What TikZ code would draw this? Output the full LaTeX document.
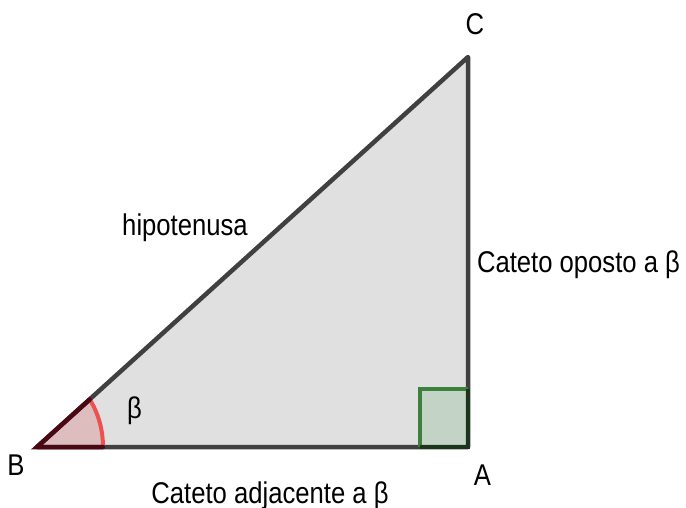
\documentclass[tikz,border=0pt]{standalone}
\usepackage{fontspec}
\setmainfont{Liberation Sans}
\newcommand{\hs}[1]{\scalebox{0.855}[1]{#1}}
\definecolor{trifill}{HTML}{E0E0E0}
\definecolor{triline}{HTML}{404040}
\definecolor{angfill}{HTML}{DDBDBD}
\definecolor{angarc}{HTML}{EE5050}
\definecolor{angedge}{HTML}{4A0814}
\definecolor{sqfill}{HTML}{C3D3C5}
\definecolor{sqline}{HTML}{3C803C}
\definecolor{sqdark}{HTML}{1C331C}
\begin{document}
\begin{tikzpicture}[x=1pt,y=-1pt,
  lbl/.style={font=\fontsize{30}{34}\selectfont, inner sep=0pt, anchor=base},
  edge/.style={draw=triline, line width=4.5pt, line join=round, line cap=round}]
\useasboundingbox (0,0) rectangle (686,508);
\coordinate (B) at (37,447);
\coordinate (A) at (468,447);
\coordinate (C) at (468,57);
\coordinate (Ba) at (103,447);
\coordinate (Bc) at (89.7,399.5);
\coordinate (Q) at (420,389);
\coordinate (Qb) at (420,447);
\coordinate (Qr) at (468,389);
% triangle fill
\fill[trifill] (B) -- (A) -- (C) -- cycle;
% angle sector fill
\begin{scope}
  \clip (B) -- (A) -- (C) -- cycle;
  \fill[angfill] (B) ellipse [x radius=66, y radius=79];
\end{scope}
% right angle fill
\fill[sqfill] (Q) rectangle (A);
% triangle edges
\draw[edge] (B) -- (A) -- (C) -- cycle;
% angle arc
\begin{scope}
  \clip (B) -- (A) -- (C) -- cycle;
  \draw[angarc, line width=4pt] (B) ellipse [x radius=66, y radius=79];
\end{scope}
\draw[angedge, line width=4.5pt, line cap=round] (Bc) -- (B) -- (Ba);
% right angle mark
\draw[sqline, line width=4.5pt] (Qb) -- (Q) -- (Qr);
\draw[sqdark, line width=4.5pt] (Qb) -- (A) -- (Qr);
% labels
\node[lbl] (lC) at (475,35) {\hs{C}};
\node[lbl] (lA) at (482.5,485) {\hs{A}};
\node[lbl] (lB) at (16,475) {\hs{B}};
\node[lbl] (lbeta) at (134.5,418) {\hs{β}};
\node[lbl] (lhip) at (185,236) {\hs{hipotenusa}};
\node[lbl] (lop) at (578.5,272) {\hs{Cateto oposto a β}};
\node[lbl] (ladj) at (270,503) {\hs{Cateto adjacente a β}};
\end{tikzpicture}
\end{document}
